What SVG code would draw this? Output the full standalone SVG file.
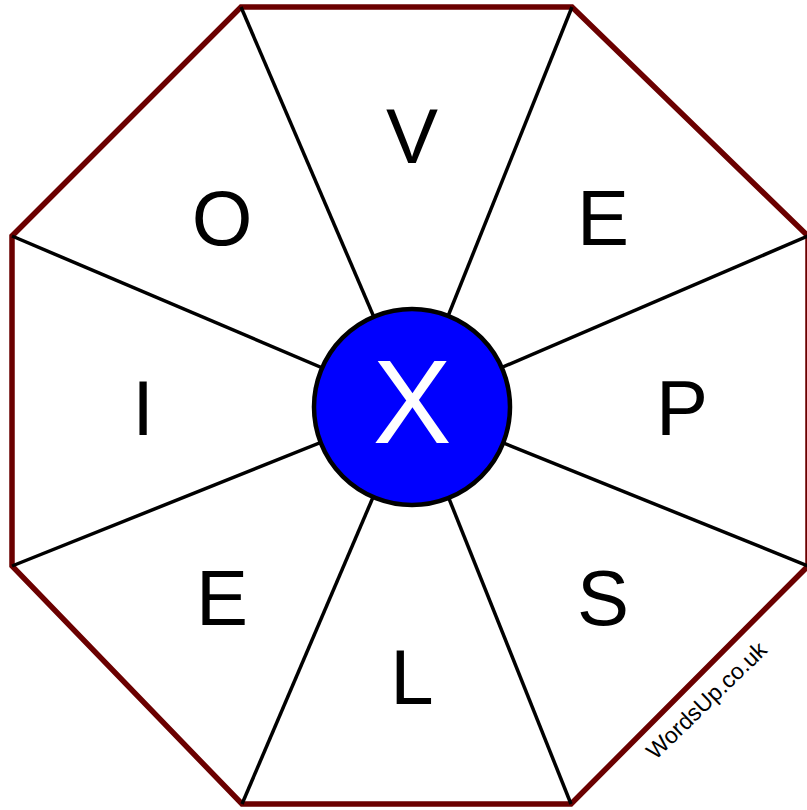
<svg xmlns="http://www.w3.org/2000/svg" width="807" height="810" viewBox="0 0 807 810">
<style>
.oct{fill:#fff;stroke:#6b0000;stroke-width:5.5;stroke-linejoin:miter}
.sp{stroke:#000;stroke-width:3.5;fill:none}
.lt{font-family:"Liberation Sans",Arial,sans-serif;font-size:78px;fill:#000;text-anchor:middle}
.wm{font-family:"Liberation Sans",Arial,sans-serif;font-size:23px;fill:#000;text-anchor:middle}
</style>
<rect width="807" height="810" fill="#fff"/>
<g id="octagon"><polygon class="oct" points="241,7 572,7 808,236 808,566 571,804 242,804 12,566 12,236"/></g>
<g id="connectors">
<line class="sp" x1="241" y1="7" x2="412" y2="406"/>
<line class="sp" x1="572" y1="7" x2="412" y2="406"/>
<line class="sp" x1="808" y1="236" x2="412" y2="406"/>
<line class="sp" x1="808" y1="566" x2="412" y2="406"/>
<line class="sp" x1="571" y1="804" x2="412" y2="406"/>
<line class="sp" x1="242" y1="804" x2="412" y2="406"/>
<line class="sp" x1="12" y1="566" x2="412" y2="406"/>
<line class="sp" x1="12" y1="236" x2="412" y2="406"/>
</g>
<g id="center"><circle cx="412" cy="407" r="98" fill="#0000ff" stroke="#000" stroke-width="4.5"/>
<text x="412" y="443" style="font-family:'Liberation Sans',Arial,sans-serif;font-size:118px;fill:#fff;text-anchor:middle">X</text></g>
<g id="n-V"><text class="lt" x="412" y="163">V</text></g>
<g id="n-E1"><text class="lt" x="603" y="245">E</text></g>
<g id="n-P"><text class="lt" x="682" y="435">P</text></g>
<g id="n-S"><text class="lt" x="603" y="625">S</text></g>
<g id="n-L"><text class="lt" x="412" y="704">L</text></g>
<g id="n-E2"><text class="lt" x="222" y="625">E</text></g>
<g id="n-I"><text class="lt" x="143" y="435">I</text></g>
<g id="n-O"><text class="lt" x="222" y="245">O</text></g>
<g id="watermark"><text class="wm" transform="translate(712,706) rotate(-44)">WordsUp.co.uk</text></g>
</svg>
